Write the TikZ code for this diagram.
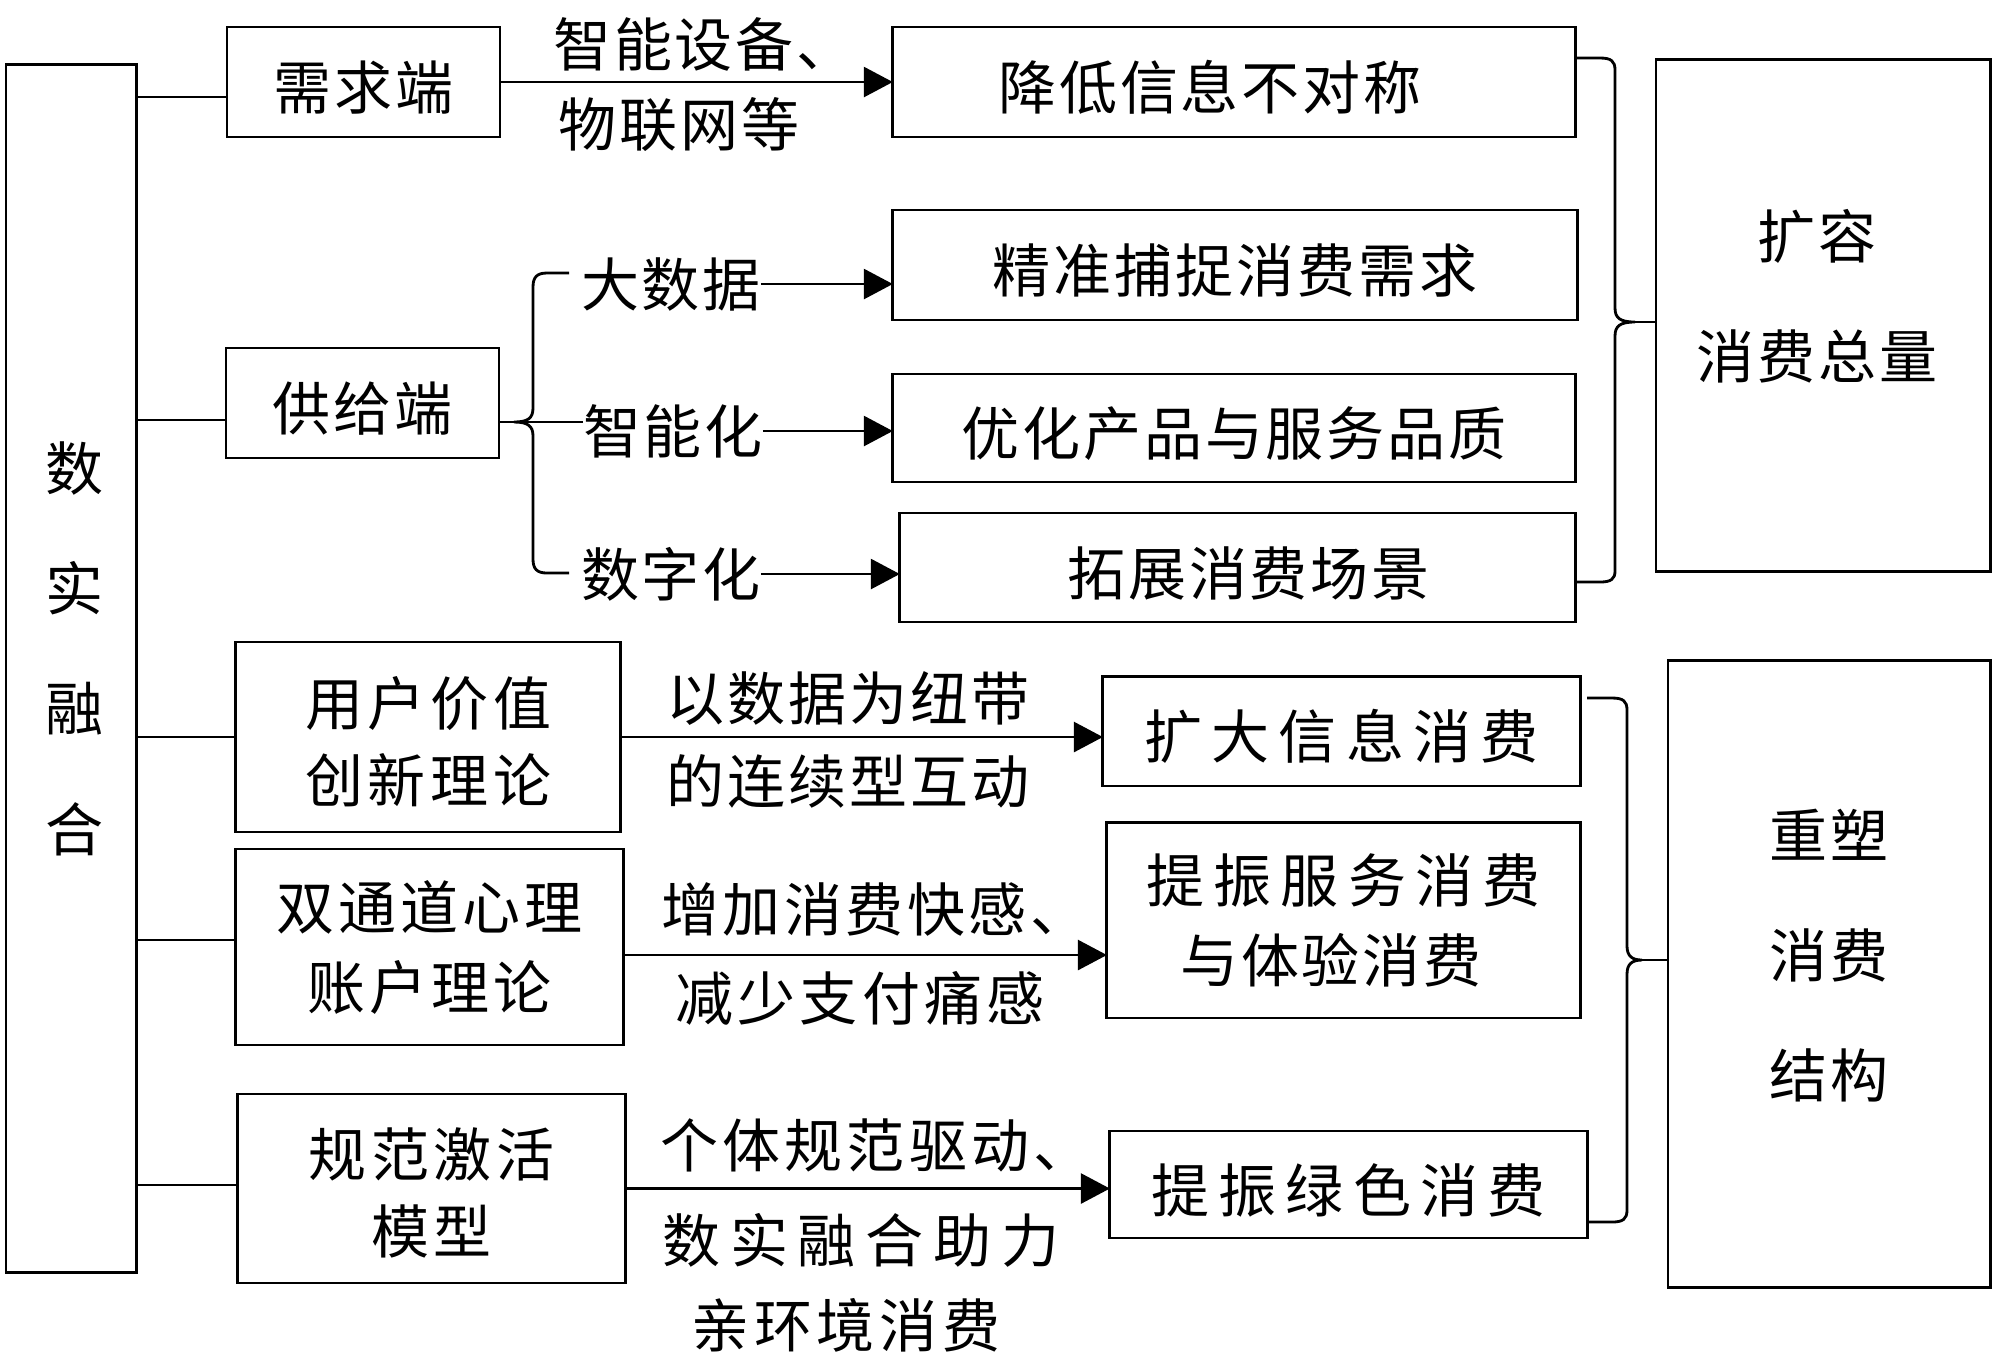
\documentclass[tikz,border=0pt]{standalone}
\usepackage{fontspec}
\setmainfont{Noto Sans CJK SC}[LetterSpace=5]
\usetikzlibrary{arrows.meta,calc}
\newcommand\lsp[1]{\addfontfeature{LetterSpace=#1}}
\newcommand\fsn{\fontsize{16.5pt}{22pt}\selectfont}
\newcommand\fsb{\fontsize{16.5pt}{34.14pt}\selectfont}
\newcommand\tstrut{\rule{0pt}{0.58cm}}
\tikzset{
  box/.style 2 args={draw, line width=0.8pt, inner sep=0pt, outer sep=0pt, align=center,
    minimum width=#1cm, minimum height=#2cm, font=\fsn},
  oneline/.style={text height=0.59cm, text depth=0.04cm},
  txt/.style={inner sep=0pt, outer sep=0pt, align=center, font=\fsn},
  ln/.style={line width=0.8pt},
  arr/.style={line width=0.8pt, -{Triangle[length=0.29cm,width=0.30cm]}},
}
\begin{document}
\begin{tikzpicture}[x=0.01cm, y=-0.01cm]
\useasboundingbox (0,0) rectangle (2000,1356);
% left column
\node[box={1.305}{12.07}] (sszh) at (71.25,668.5) {};
\node[txt, font=\fsb] (sszht) at (75,648.75) {数\\实\\融\\合};
% upper part
\node[box={2.73}{1.10}, oneline] (xqd) at (363.5,82) {需求端};
\node[box={6.82}{1.10}, oneline] (jd) at (1234,82) {降低信息不对称\hspace*{0.48cm}};
\node[box={2.73}{1.10}, oneline] (gjd) at (362.5,403) {供给端};
\node[box={6.84}{1.10}, oneline] (jz) at (1235,265) {精准捕捉消费需求};
\node[box={6.82}{1.08}, oneline] (yh) at (1234,428) {优化产品与服务品质};
\node[box={6.75}{1.09}, oneline] (tz) at (1237.5,567.5) {\hspace*{0.22cm}拓展消费场景};
\node[box={3.34}{5.11}] (krz) at (1823,315.5) {};
\node[txt, font=\fsb] (krzt) at (1817,296) {扩容\\消费总量};
% labels upper
\node[txt] (l1a) at (704,44) {智能设备、};
\node[txt] (l1b) at (679,125) {物联网等};
\node[txt] (dsj) at (671,284) {大数据};
\node[txt] (znh) at (673,431) {智能化};
\node[txt] (szh) at (671,574) {数字化};
% lower part
\node[box={3.845}{1.90}, font=\fsn\lsp{8}] (yhjz) at (428.25,737) {\tstrut{}用户价值\\创新理论};
\node[box={3.87}{1.96}, font=\fontsize{16.5pt}{22.76pt}\selectfont\lsp{7}] (stdl) at (429.5,947) {双通道心理\\账户理论};
\node[box={3.87}{1.89}, font=\fsn\lsp{8}] (gfjh) at (431.5,1188.5) {\tstrut{}规范激活\\模型};
\node[box={4.77}{1.095}, oneline, font=\fsn\lsp{16}] (kdxx) at (1341.5,731.25) {扩大信息消费};
\node[box={4.73}{1.954}, font=\fontsize{16.5pt}{22.76pt}\selectfont] (zzfw) at (1343.5,920.3) {{\lsp{16}提振服务消费}\\与体验消费\hspace*{0.25cm}};
\node[box={4.77}{1.07}, oneline, font=\fsn\lsp{16}] (zzls) at (1348.5,1184.5) {提振绿色消费};
\node[box={3.22}{6.27}] (csxf) at (1829,974) {};
\node[txt, font=\fsb] (csxft) at (1829,956) {重塑\\消费\\结构};
% labels lower
\node[txt] (ysj) at (848,698) {以数据为纽带};
\node[txt] (lxx) at (848,781) {的连续型互动};
\node[txt, font=\fsn\lsp{6}] (zjxf) at (875,909) {增加消费快感、};
\node[txt, font=\fsn\lsp{7}] (jszf) at (860,998) {减少支付痛感};
\node[txt, font=\fsn\lsp{7}] (gtgf) at (876,1145) {个体规范驱动、};
\node[txt, font=\fsn\lsp{17}] (ssrh) at (861,1240) {数实融合助力};
\node[txt, font=\fsn\lsp{8}] (qhj) at (846,1325) {亲环境消费};
% connectors from left column
\coordinate (k1) at ($(xqd.west)+(0,15)$);
\coordinate (k2) at ($(gjd.west)+(0,17)$);
\coordinate (k4) at ($(stdl.west)+(0,-7)$);
\coordinate (k5) at ($(gfjh.west)+(0,-3.5)$);
\draw[ln] (k1 -| sszh.east) -- (k1);
\draw[ln] (k2 -| sszh.east) -- (k2);
\draw[ln] (yhjz.west -| sszh.east) -- (yhjz.west);
\draw[ln] (k4 -| sszh.east) -- (k4);
\draw[ln] (k5 -| sszh.east) -- (k5);
% arrows upper
\draw[arr] (xqd.east) -- (jd.west);
\draw[arr] (dsj.east) -- (dsj.east -| jz.west);
\draw[arr] (znh.east) -- (znh.east -| yh.west);
\draw[arr] (szh.east) -- (szh.east -| tz.west);
% left brace of supply side
\coordinate (bm) at (533,422);
\draw[ln] (gjd.east |- bm) -- (znh.west |- bm);
\draw[ln] (569,273) -- (547,273) .. controls (537,273) and (533,277) .. (533,287)
  -- (533,408) .. controls (533,418) and (528,422) .. (514,422)
  .. controls (528,422) and (533,426) .. (533,436)
  -- (533,559) .. controls (533,569) and (537,573) .. (547,573) -- (569,573);
% right brace top
\coordinate (c1) at (1635,322);
\draw[ln] ($(jd.north east)+(0,31)$) -- (1600,58) .. controls (1611,58) and (1615,61) .. (1615,70)
  -- (1615,308) .. controls (1615,318) and (1620,322) .. (c1)
  .. controls (1620,322) and (1615,326) .. (1615,336)
  -- (1615,571) .. controls (1615,579) and (1611,582) .. (1600,582) -- ($(tz.south east)+(0,-40)$);
\draw[ln] (c1) -- (c1 -| krz.west);
% arrows lower
\coordinate (k6) at ($(stdl.east)+(0,8)$);
\draw[arr] (yhjz.east) -- (yhjz.east -| kdxx.west);
\draw[arr] (k6) -- (k6 -| zzfw.west);
\draw[arr] (gfjh.east) -- (gfjh.east -| zzls.west);
% right brace bottom
\coordinate (c2) at (1642,960);
\draw[ln] (1587,698) -- (1612,698) .. controls (1623,698) and (1627,701) .. (1627,710)
  -- (1627,946) .. controls (1627,956) and (1632,960) .. (c2)
  .. controls (1632,960) and (1627,964) .. (1627,974)
  -- (1627,1210) .. controls (1627,1219) and (1623,1222) .. (1612,1222) -- (zzls.east |- 0,1222);
\draw[ln] (c2) -- (c2 -| csxf.west);
\end{tikzpicture}
\end{document}
